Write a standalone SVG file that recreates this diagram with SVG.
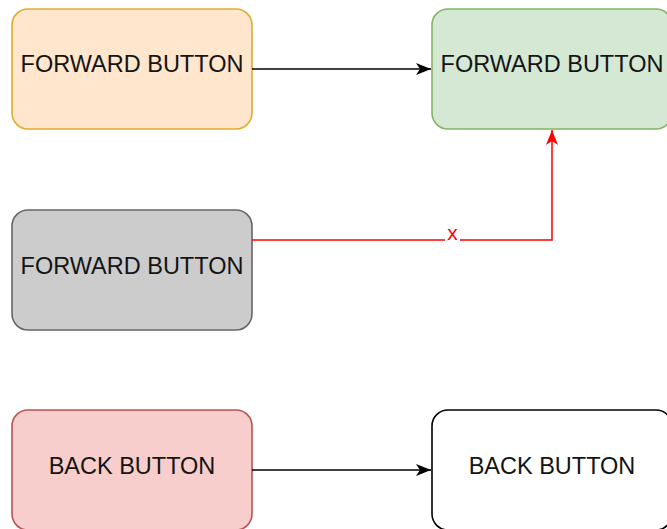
<svg xmlns="http://www.w3.org/2000/svg" width="667" height="529" viewBox="0 0 667 529">
  <defs>
    <marker id="arrowBlack" markerUnits="userSpaceOnUse" markerWidth="17" markerHeight="14" refX="16" refY="7" orient="auto">
      <path d="M1,1 L16,7 L1,13 L5,7 Z" fill="#000000"/>
    </marker>
    <marker id="arrowRed" markerUnits="userSpaceOnUse" markerWidth="17" markerHeight="14" refX="16" refY="7" orient="auto">
      <path d="M1,1 L16,7 L1,13 L5,7 Z" fill="#ff0000"/>
    </marker>
  </defs>
  <style>
    .box { stroke-width: 1.6; }
    .label { font-family: "Liberation Sans", Arial, sans-serif; font-size: 23.5px; fill: #141414; text-anchor: middle; dominant-baseline: central; }
    .edge { fill: none; stroke-width: 1.5; }
  </style>
  <rect width="667" height="529" fill="#ffffff"/>

  <g id="fwd-orange">
    <rect class="box" x="12" y="9" width="240" height="120" rx="16" fill="#ffe6cc" stroke="#d79b00" stroke-opacity="0.8"/>
    <text class="label" x="132" y="64">FORWARD BUTTON</text>
  </g>
  <g id="fwd-green">
    <rect class="box" x="432" y="9" width="240" height="120" rx="16" fill="#d5e8d4" stroke="#82b366"/>
    <text class="label" x="552" y="64">FORWARD BUTTON</text>
  </g>
  <g id="fwd-gray">
    <rect class="box" x="12" y="210" width="240" height="120" rx="16" fill="#cccccc" stroke="#666666"/>
    <text class="label" x="132" y="266">FORWARD BUTTON</text>
  </g>
  <g id="back-red">
    <rect class="box" x="12" y="410" width="240" height="120" rx="16" fill="#f8cecc" stroke="#b85450"/>
    <text class="label" x="132" y="466">BACK BUTTON</text>
  </g>
  <g id="back-white">
    <rect class="box" x="432" y="410" width="240" height="120" rx="16" fill="#ffffff" stroke="#000000"/>
    <text class="label" x="552" y="466">BACK BUTTON</text>
  </g>

  <g id="connectors">
    <path class="edge" d="M252,69 L431,69" stroke="#000000" marker-end="url(#arrowBlack)"/>
    <path class="edge" d="M252,240 L552,240 L552,130" stroke="#ff0000" stroke-width="2" marker-end="url(#arrowRed)"/>
    <rect x="445" y="228" width="15" height="14" fill="#ffffff"/>
    <text x="452.5" y="240" font-family="Liberation Sans, Arial, sans-serif" font-size="21" fill="#ff0000" text-anchor="middle">x</text>
    <path class="edge" d="M252,470 L431,470" stroke="#000000" marker-end="url(#arrowBlack)"/>
  </g>
</svg>
